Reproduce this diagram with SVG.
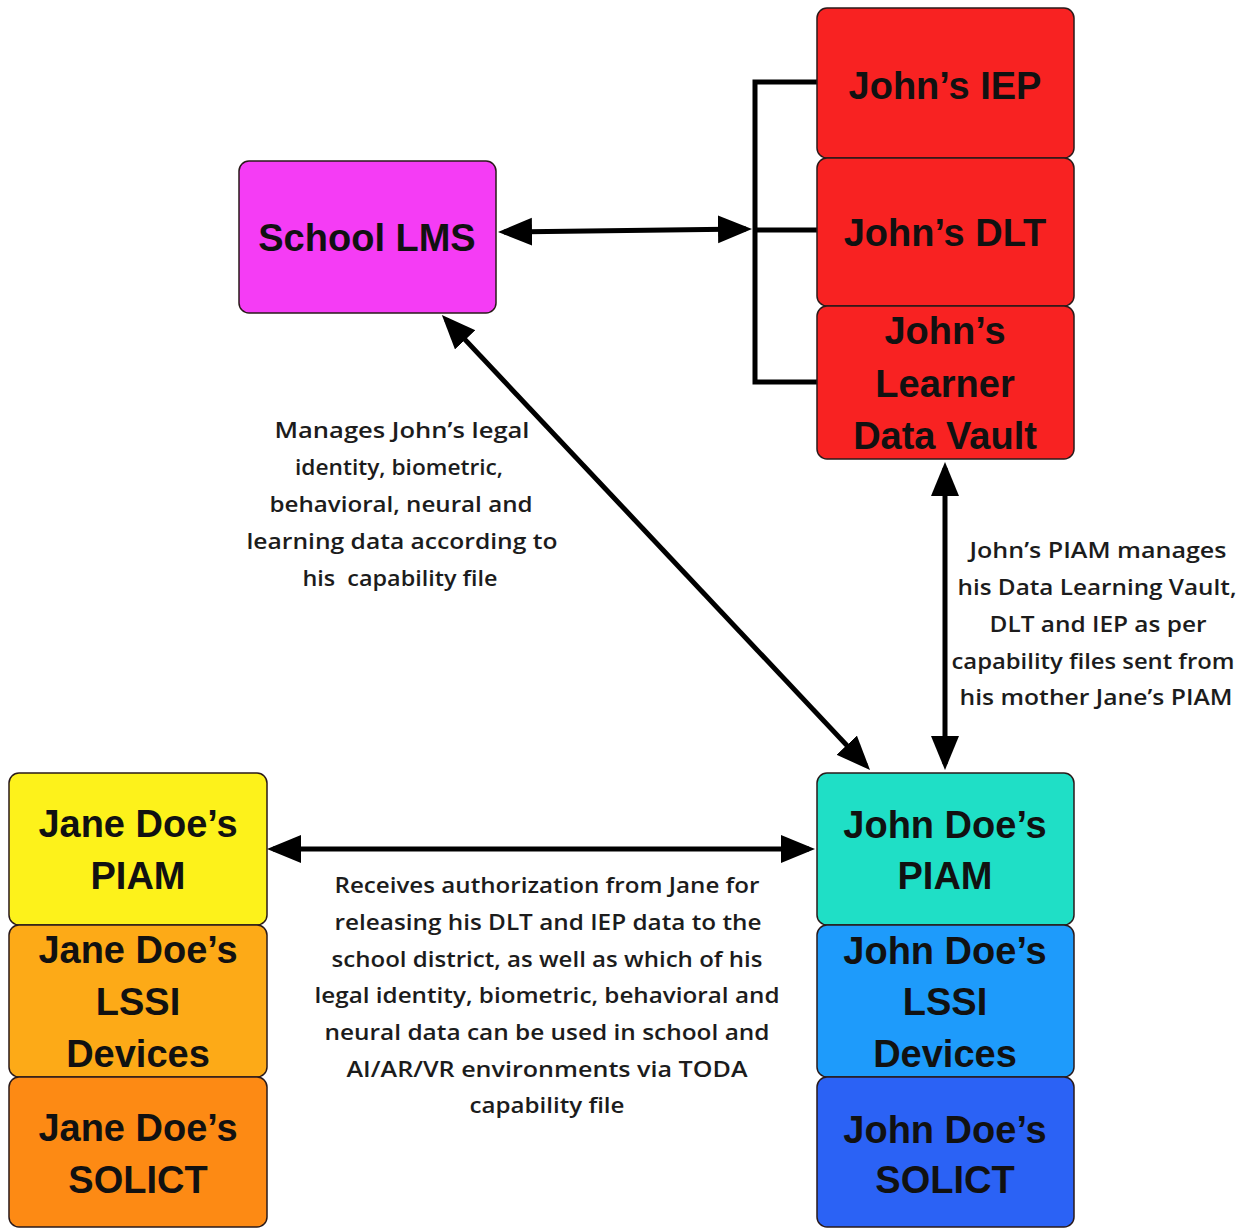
<svg xmlns="http://www.w3.org/2000/svg" width="1247" height="1229" viewBox="0 0 1247 1229">
  <style>
    .box { stroke: #2a1a1a; stroke-width: 1.5; }
    .name { font-family: "Liberation Sans", Arial, sans-serif; font-weight: bold; font-size: 38px; fill: #111; text-anchor: middle; }
    .note { font-family: "Open Sans", "Liberation Sans", sans-serif; font-weight: 600; font-size: 22px; fill: #1c1c1c; text-anchor: middle; }
    .wire { stroke: #000; stroke-width: 5; fill: none; }
    .arrow { stroke: #000; stroke-width: 5; fill: none; marker-start: url(#head); marker-end: url(#head); }
  </style>
  <defs>
    <marker id="head" markerUnits="userSpaceOnUse" markerWidth="36" markerHeight="30" refX="28" refY="14" orient="auto-start-reverse" viewBox="0 0 36 30">
      <path d="M0,0 L34,14 L0,28 Z" fill="#000"/>
    </marker>
  </defs>
  <rect width="1247" height="1229" fill="#fff"/>

  <!-- connectors -->
  <g id="connectors">
    <path class="wire" d="M817,82 H755 V382 H817 M755,230 H817"/>
    <line class="arrow" x1="504" y1="232" x2="746" y2="229"/>
    <line class="arrow" x1="446" y1="319.4" x2="865.9" y2="765.6"/>
    <line class="arrow" x1="945" y1="468" x2="945" y2="764"/>
    <line class="arrow" x1="273" y1="849" x2="809" y2="849"/>
  </g>

  <!-- nodes -->
  <g id="school-lms">
    <rect class="box" x="239" y="161" width="257" height="152" rx="10" fill="#F53CF5"/>
    <text class="name" x="367" y="251">School LMS</text>
  </g>
  <g id="johns-iep">
    <rect class="box" x="817" y="8" width="257" height="150" rx="10" fill="#F82222"/>
    <text class="name" x="945" y="99">John’s IEP</text>
  </g>
  <g id="johns-dlt">
    <rect class="box" x="817" y="158" width="257" height="148" rx="10" fill="#F82222"/>
    <text class="name" x="945" y="246">John’s DLT</text>
  </g>
  <g id="johns-vault">
    <rect class="box" x="817" y="306" width="257" height="153" rx="10" fill="#F82222"/>
    <text class="name" x="945" y="344">John’s</text>
    <text class="name" x="945" y="397">Learner</text>
    <text class="name" x="945" y="449">Data Vault</text>
  </g>
  <g id="jane-piam">
    <rect class="box" x="9" y="773" width="258" height="152" rx="10" fill="#FDF21B"/>
    <text class="name" x="138" y="837">Jane Doe’s</text>
    <text class="name" x="138" y="889">PIAM</text>
  </g>
  <g id="jane-lssi">
    <rect class="box" x="9" y="925" width="258" height="152" rx="10" fill="#FDAA17"/>
    <text class="name" x="138" y="963">Jane Doe’s</text>
    <text class="name" x="138" y="1015">LSSI</text>
    <text class="name" x="138" y="1067">Devices</text>
  </g>
  <g id="jane-solict">
    <rect class="box" x="9" y="1077" width="258" height="150" rx="10" fill="#FD8A14"/>
    <text class="name" x="138" y="1141">Jane Doe’s</text>
    <text class="name" x="138" y="1193">SOLICT</text>
  </g>
  <g id="john-piam">
    <rect class="box" x="817" y="773" width="257" height="152" rx="10" fill="#1FDFC6"/>
    <text class="name" x="945" y="838">John Doe’s</text>
    <text class="name" x="945" y="889">PIAM</text>
  </g>
  <g id="john-lssi">
    <rect class="box" x="817" y="925" width="257" height="152" rx="10" fill="#1E9BFB"/>
    <text class="name" x="945" y="964">John Doe’s</text>
    <text class="name" x="945" y="1015">LSSI</text>
    <text class="name" x="945" y="1067">Devices</text>
  </g>
  <g id="john-solict">
    <rect class="box" x="817" y="1077" width="257" height="150" rx="10" fill="#2B62F5"/>
    <text class="name" x="945" y="1143">John Doe’s</text>
    <text class="name" x="945" y="1193">SOLICT</text>
  </g>

  <!-- edge notes -->
  <g id="note-lms">
    <text class="note" x="402" y="438" textLength="255" lengthAdjust="spacingAndGlyphs">Manages John’s legal</text>
    <text class="note" x="399" y="475" textLength="208" lengthAdjust="spacingAndGlyphs">identity, biometric,</text>
    <text class="note" x="401" y="512" textLength="263" lengthAdjust="spacingAndGlyphs">behavioral, neural and</text>
    <text class="note" x="402" y="549" textLength="311" lengthAdjust="spacingAndGlyphs">learning data according to</text>
    <text class="note" x="400" y="586" textLength="195" lengthAdjust="spacingAndGlyphs" xml:space="preserve">his  capability file</text>
  </g>
  <g id="note-vault">
    <text class="note" x="1098" y="558" textLength="257" lengthAdjust="spacingAndGlyphs">John’s PIAM manages</text>
    <text class="note" x="1097" y="595" textLength="279" lengthAdjust="spacingAndGlyphs">his Data Learning Vault,</text>
    <text class="note" x="1098" y="632" textLength="217" lengthAdjust="spacingAndGlyphs">DLT and IEP as per</text>
    <text class="note" x="1093" y="669" textLength="283" lengthAdjust="spacingAndGlyphs">capability files sent from</text>
    <text class="note" x="1096" y="705" textLength="273" lengthAdjust="spacingAndGlyphs">his mother Jane’s PIAM</text>
  </g>
  <g id="note-jane">
    <text class="note" x="547" y="893" textLength="425" lengthAdjust="spacingAndGlyphs">Receives authorization from Jane for</text>
    <text class="note" x="548" y="930" textLength="427" lengthAdjust="spacingAndGlyphs">releasing his DLT and IEP data to the</text>
    <text class="note" x="547" y="967" textLength="431" lengthAdjust="spacingAndGlyphs">school district, as well as which of his</text>
    <text class="note" x="547" y="1003" textLength="465" lengthAdjust="spacingAndGlyphs">legal identity, biometric, behavioral and</text>
    <text class="note" x="547" y="1040" textLength="445" lengthAdjust="spacingAndGlyphs">neural data can be used in school and</text>
    <text class="note" x="547" y="1077" textLength="401" lengthAdjust="spacingAndGlyphs">AI/AR/VR environments via TODA</text>
    <text class="note" x="547" y="1113" textLength="155" lengthAdjust="spacingAndGlyphs">capability file</text>
  </g>
</svg>
